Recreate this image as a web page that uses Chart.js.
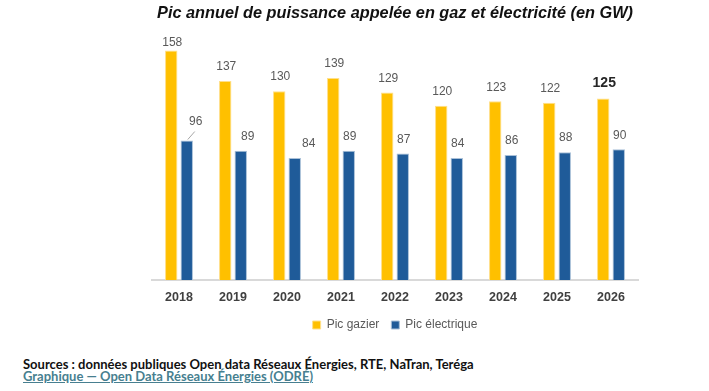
<!DOCTYPE html>
<html>
<head>
<meta charset="utf-8">
<script src="https://cdn.jsdelivr.net/npm/chart.js@4.4.0/dist/chart.umd.min.js"></script>
<style>
  html, body { margin: 0; padding: 0; background: #fff; }
  #wrap { position: relative; width: 709px; height: 391px; overflow: hidden; }
  #chart { position: absolute; left: 0; top: 0; }
  .src { position: absolute; left: 23px; font-family: Lato, "Noto Sans", sans-serif; font-weight: bold; font-size: 13px; line-height: 15px; white-space: nowrap; }
  #sources { top: 357px; color: #111; }
  #credit { top: 369px; color: #477f90; text-decoration: underline; }
</style>
</head>
<body>
<div id="wrap">
  <canvas id="chart" width="709" height="345"></canvas>
  <div class="src" id="sources">Sources : données publiques Open data Réseaux Énergies, RTE, NaTran, Teréga</div>
  <div class="src" id="credit">Graphique — Open Data Réseaux Énergies (ODRÉ)</div>
</div>
<script>
const years = ['2018', '2019', '2020', '2021', '2022', '2023', '2024', '2025', '2026'];
const picGazier = [158, 137, 130, 139, 129, 120, 123, 122, 125];
const picElectrique = [96, 89, 84, 89, 87, 84, 86, 88, 90];

// small hand nudges for a few value labels, like in the original
const elecNudge = { 0: [8, -5], 1: [6, 0], 2: [13, 0] };

const valueLabels = {
    id: 'valueLabels',
    afterDatasetsDraw(chart) {
        const ctx = chart.ctx;
        const top = chart.chartArea.top;
        ctx.save();
        ctx.textAlign = 'center';
        ctx.textBaseline = 'middle';
        chart.data.datasets.forEach(function(ds, di) {
            chart.getDatasetMeta(di).data.forEach(function(bar, i) {
                let x = bar.x, y = Math.max(bar.y - 14, top - 5);
                ctx.font = '12px "Liberation Sans", Arial, sans-serif';
                ctx.fillStyle = '#595959';
                if (di === 0 && i === ds.data.length - 1) {
                    ctx.font = 'bold 14px "Liberation Sans", Arial, sans-serif';
                    ctx.fillStyle = '#262626';
                    y = bar.y - 15;
                }
                if (di === 1) {
                    const n = elecNudge[i];
                    if (n) { x += n[0]; y += n[1]; }
                    if (i === 0) {
                        ctx.strokeStyle = '#a6a6a6';
                        ctx.lineWidth = 1;
                        ctx.beginPath();
                        ctx.moveTo(bar.x + 1, bar.y - 1);
                        ctx.lineTo(bar.x + 8, bar.y - 9);
                        ctx.stroke();
                    }
                }
                ctx.fillText(ds.data[i], x + 1, y);
            });
        });
        ctx.restore();
    }
};

new Chart(document.getElementById('chart'), {
    type: 'bar',
    data: {
        labels: years,
        datasets: [{
            label: 'Pic gazier',
            data: picGazier,
            backgroundColor: '#ffc000',
            borderColor: '#ffe08a',
            borderWidth: 1
        }, {
            label: 'Pic électrique',
            data: picElectrique,
            backgroundColor: '#1f5b99',
            borderColor: '#a9c0d8',
            borderWidth: 1
        }]
    },
    options: {
        responsive: false,
        animation: false,
        categoryPercentage: 0.575,
        barPercentage: 0.8,
        layout: { padding: { left: 152, right: 71, top: 4, bottom: 4 } },
        scales: {
            x: {
                grid: { display: false },
                border: { display: true, color: '#d9d9d9', width: 2 },
                ticks: {
                    color: '#404040',
                    padding: 2,
                    font: { family: '"Liberation Sans", Arial, sans-serif', size: 12.5, weight: 'bold' }
                }
            },
            y: {
                display: false,
                min: 0,
                max: 160
            }
        },
        plugins: {
            title: {
                display: true,
                text: 'Pic annuel de puissance appelée en gaz et électricité (en GW)',
                color: '#111',
                padding: { top: 0, bottom: 24 },
                font: { family: '"Liberation Sans", Arial, sans-serif', size: 16.3, weight: 'bold', style: 'italic' }
            },
            legend: {
                position: 'bottom',
                labels: {
                    boxWidth: 8,
                    boxHeight: 8,
                    padding: 12,
                    color: '#595959',
                    font: { family: '"Liberation Sans", Arial, sans-serif', size: 12 }
                }
            },
            tooltip: { enabled: false }
        }
    },
    plugins: [valueLabels]
});
</script>
</body>
</html>
